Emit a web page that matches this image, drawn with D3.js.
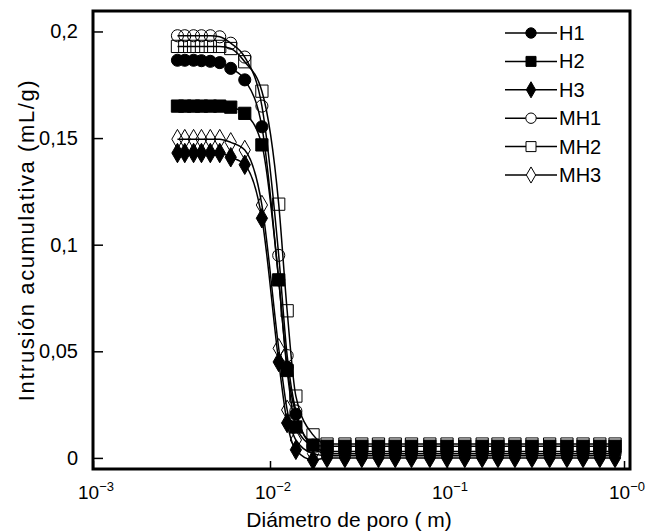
<!DOCTYPE html>
<html>
<head>
<meta charset="utf-8">
<script src="https://cdn.jsdelivr.net/npm/d3@7"></script>
<style>
  html, body { margin: 0; padding: 0; background: #fff; }
  svg { display: block; font-family: "Liberation Sans", Arial, Helvetica, sans-serif; }
</style>
</head>
<body>
<svg id="chart" width="647" height="532"></svg>
<script>
// ---- data (pore diameter in µm, cumulative intrusion in mL/g) ----
const diameters = [0.003, 0.0033, 0.0037, 0.0041, 0.0046, 0.0052, 0.006, 0.0072, 0.009, 0.0112,
  0.0125, 0.014, 0.0175, 0.021, 0.0265, 0.033, 0.041, 0.051, 0.063, 0.08,
  0.1, 0.126, 0.158, 0.194, 0.242, 0.302, 0.38, 0.476, 0.587, 0.73, 0.89];

const H1  = [0.1865, 0.1865, 0.1865, 0.1863, 0.186, 0.1854, 0.1827, 0.1773, 0.1553, 0.0835,
  0.0425, 0.0205, 0.006, 0.003, 0.003, 0.003, 0.003, 0.003, 0.003, 0.003,
  0.003, 0.003, 0.003, 0.003, 0.003, 0.003, 0.003, 0.003, 0.003, 0.003, 0.003];
const H2  = [0.165, 0.165, 0.165, 0.165, 0.165, 0.165, 0.1645, 0.1616, 0.1468, 0.0835,
  0.041, 0.0145, 0.006, 0.0055, 0.0055, 0.0055, 0.0055, 0.0055, 0.0055, 0.0055,
  0.0055, 0.0055, 0.0055, 0.0055, 0.0055, 0.0055, 0.0055, 0.0055, 0.0055, 0.0055, 0.0055];
const H3  = [0.143, 0.143, 0.143, 0.143, 0.143, 0.143, 0.141, 0.1375, 0.1124, 0.045,
  0.0164, 0.0038, -0.001, 0.0, 0.0, 0.0, 0.0, 0.0, 0.0, 0.0,
  0.0, 0.0, 0.0, 0.0, 0.0, 0.0, 0.0, 0.0, 0.0, 0.0, 0.0];
const MH1 = [0.198, 0.198, 0.198, 0.198, 0.198, 0.1975, 0.1945, 0.188, 0.165, 0.095,
  0.048, 0.022, 0.005, 0.002, 0.002, 0.002, 0.002, 0.002, 0.002, 0.002,
  0.002, 0.002, 0.002, 0.002, 0.002, 0.002, 0.002, 0.002, 0.002, 0.002, 0.002];
const MH2 = [0.193, 0.193, 0.193, 0.193, 0.193, 0.193, 0.192, 0.1858, 0.172, 0.119,
  0.069, 0.029, 0.0108, 0.0065, 0.0065, 0.0065, 0.0065, 0.0065, 0.0065, 0.0065,
  0.0065, 0.0065, 0.0065, 0.0065, 0.0065, 0.0065, 0.0065, 0.0065, 0.0065, 0.0065, 0.0065];
const MH3 = [0.1495, 0.1495, 0.1495, 0.1495, 0.1495, 0.1495, 0.148, 0.1444, 0.1186, 0.0514,
  0.0225, 0.0084, 0.002, 0.001, 0.001, 0.001, 0.001, 0.001, 0.001, 0.001,
  0.001, 0.001, 0.001, 0.001, 0.001, 0.001, 0.001, 0.001, 0.001, 0.001, 0.001];

const seriesNames = ["H1", "H2", "H3", "MH1", "MH2", "MH3"];
const seriesValues = [H1, H2, H3, MH1, MH2, MH3];
const markerShapes = ["circle", "square", "diamond", "circle", "square", "diamond"];
const markerFilled = [true, true, true, false, false, false];

const yTickValues = [0, 0.05, 0.1, 0.15, 0.2];
const yTickLabels = ["0", "0,05", "0,1", "0,15", "0,2"];
const xMajorTicks = [0.001, 0.01, 0.1, 1];
const xMajorExponents = ["\u22123", "\u22122", "\u22121", "\u22120"];
const xTitle = "Diámetro de poro (  m)";
const yTitle = "Intrusión acumulativa (mL/g)";

// ---- layout ----
const svg = d3.select("#chart");
const L = 93, R = 630, T = 11, B = 469;
const x = d3.scaleLog().domain([0.001, 1.081]).range([L, R]);
const y = d3.scaleLinear().domain([-0.0052, 0.2096]).range([B, T]);

// minor ticks
const minorTicks = [];
for (let e = -3; e < 0; e++) {
  for (let m = 2; m <= 9; m++) minorTicks.push(m * Math.pow(10, e));
}

// x axis ticks (inward)
const xAxisG = svg.append("g").attr("transform", `translate(0,${B})`);
xAxisG.call(d3.axisBottom(x).tickValues(minorTicks).tickSizeInner(-4).tickSizeOuter(0).tickFormat(""));
xAxisG.call(d3.axisBottom(x).tickValues(xMajorTicks).tickSizeInner(-8).tickSizeOuter(0).tickFormat(""));
xAxisG.selectAll(".domain").remove();
xAxisG.selectAll(".tick line").attr("stroke", "#000").attr("stroke-width", 1.5);

// x tick labels (10^n)
const xl = svg.append("g").attr("font-size", 19).attr("fill", "#000");
xMajorTicks.forEach((v, i) => {
  const t = xl.append("text").attr("x", x(v) + 3).attr("y", 499).attr("text-anchor", "middle");
  t.append("tspan").text("10");
  t.append("tspan").attr("dy", -8).attr("font-size", 13).text(xMajorExponents[i]);
});

// y axis
const yAxisG = svg.append("g").attr("transform", `translate(${L},0)`);
yAxisG.call(d3.axisLeft(y).tickValues(yTickValues).tickSizeInner(-10).tickSizeOuter(0)
  .tickPadding(15).tickFormat((d, i) => yTickLabels[i]));
yAxisG.selectAll(".domain").remove();
yAxisG.selectAll(".tick line").attr("stroke", "#000").attr("stroke-width", 1.5);
yAxisG.selectAll(".tick text").attr("font-size", 20).attr("fill", "#000")
  .attr("font-family", "Liberation Sans, Arial, sans-serif");

// axis titles
svg.append("text").attr("x", 349).attr("y", 527).attr("text-anchor", "middle")
  .attr("font-size", 21).text(xTitle);
svg.append("text").attr("transform", "translate(34,240) rotate(-90)").attr("text-anchor", "middle")
  .attr("font-size", 22).attr("letter-spacing", 1.6).text(yTitle);

// series
const plot = svg.append("g");
const line = d3.line().curve(d3.curveMonotoneX);
const sym = {
  circle: d3.symbolCircle, square: d3.symbolSquare, diamond: d3.symbolDiamond
};
const sizes = { circle: 115, square: 150, diamond: 110 };

seriesValues.forEach((vals, si) => {
  const pts = diameters.map((d, i) => [x(d), y(vals[i])]);
  plot.append("path").attr("d", line(pts)).attr("fill", "none")
    .attr("stroke", "#000").attr("stroke-width", 1.5);
});
seriesValues.forEach((vals, si) => {
  const shape = markerShapes[si];
  const gen = d3.symbol().type(sym[shape]).size(sizes[shape]);
  plot.append("g").selectAll("path").data(diameters).join("path")
    .attr("transform", (d, i) => `translate(${x(d)},${y(vals[i])})`)
    .attr("d", gen)
    .attr("fill", markerFilled[si] ? "#000" : "none")
    .attr("stroke", "#000").attr("stroke-width", 1);
});

// frame
svg.append("rect").attr("x", L).attr("y", T).attr("width", R - L).attr("height", B - T)
  .attr("fill", "none").attr("stroke", "#000").attr("stroke-width", 3);

// legend
const leg = svg.append("g");
seriesNames.forEach((name, i) => {
  const ly = 33 + i * 28.4;
  leg.append("line").attr("x1", 505).attr("x2", 557).attr("y1", ly).attr("y2", ly)
    .attr("stroke", "#000").attr("stroke-width", 1.5);
  const shape = markerShapes[i];
  const legSizes = { circle: 85, square: 100, diamond: 75 };
  leg.append("path").attr("transform", `translate(531,${ly})`)
    .attr("d", d3.symbol().type(sym[shape]).size(legSizes[shape]))
    .attr("fill", markerFilled[i] ? "#000" : "#fff").attr("stroke", "#000").attr("stroke-width", 1);
  leg.append("text").attr("x", 559).attr("y", ly).attr("dy", "0.35em")
    .attr("font-size", 20).text(name);
});
</script>
</body>
</html>
